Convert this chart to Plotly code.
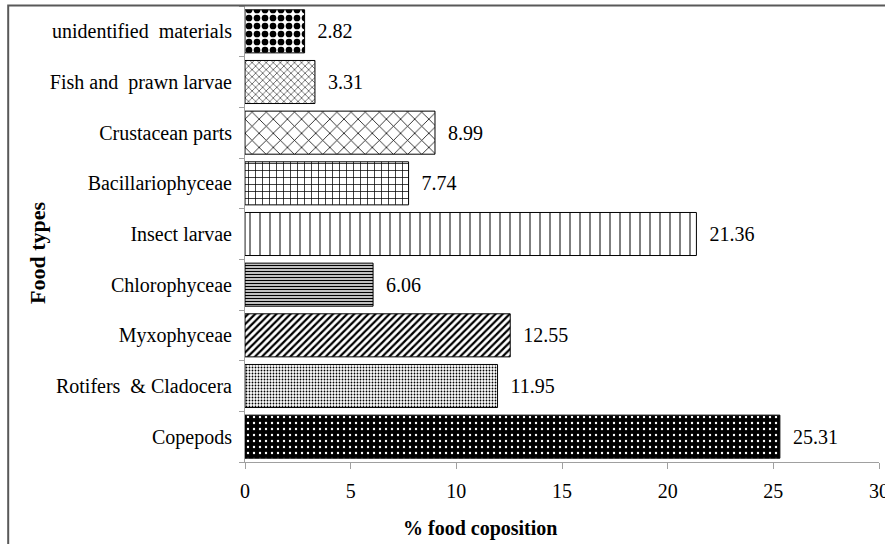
import plotly.graph_objects as go

categories = ["Copepods", "Rotifers\u00a0 & Cladocera", "Myxophyceae", "Chlorophyceae",
              "Insect larvae", "Bacillariophyceae", "Crustacean parts",
              "Fish and\u00a0 prawn larvae", "unidentified\u00a0 materials"]
values = [25.31, 11.95, 12.55, 6.06, 21.36, 7.74, 8.99, 3.31, 2.82]
x_ticks = [0, 5, 10, 15, 20, 25, 30]

pat_shape = [".", ".", "/", "-", "|", "+", "x", "x", "."]
pat_fg = ["white", "black", "black", "black", "black", "black", "black", "black", "black"]
pat_bg = ["black", "white", "white", "white", "white", "white", "white", "white", "white"]
pat_size = [6, 3, 5, 3, 10, 7, 10, 5, 8]
pat_sol = [0.12, 0.3, 0.45, 0.5, 0.1, 0.2, 0.15, 0.2, 0.55]

FONT = "Liberation Serif"

fig = go.Figure()
fig.add_trace(go.Bar(
    x=values, y=categories, orientation="h",
    marker=dict(color="black",
                line=dict(color="black", width=1),
                pattern=dict(shape=pat_shape, fgcolor=pat_fg, bgcolor=pat_bg,
                             size=pat_size, solidity=pat_sol, fillmode="replace")),
    text=values, texttemplate="\u00a0\u00a0%{x:.2f}", textposition="outside",
    textfont=dict(family=FONT, size=20, color="black"),
    cliponaxis=False, showlegend=False,
))

fig.update_layout(
    width=885, height=544,
    margin=dict(l=245, r=6, t=6, b=82),
    paper_bgcolor="white", plot_bgcolor="white",
    bargap=0.15,
    font=dict(family=FONT, size=20, color="black"),
    xaxis=dict(range=[0, 30], tickvals=x_ticks, showgrid=False, zeroline=False,
               showline=True, linecolor="#a0a0a0", linewidth=1,
               ticks="outside", ticklen=6, tickcolor="#a0a0a0",
               ticklabelstandoff=5, ticklabeloverflow="allow", automargin=False,
               tickfont=dict(family=FONT, size=20, color="black")),
    yaxis=dict(type="category", categoryorder="array", categoryarray=categories,
               showgrid=False, showline=True, linecolor="#a0a0a0", linewidth=1,
               ticks="outside", tickson="boundaries", ticklen=5, tickcolor="#a0a0a0",
               ticklabelstandoff=8, automargin=False,
               tickfont=dict(family=FONT, size=20, color="black")),
    shapes=[dict(type="rect", xref="paper", yref="paper",
                 x0=-0.3735, x1=1.2, y0=-0.5, y1=1.001,
                 line=dict(color="#595959", width=2), fillcolor="rgba(0,0,0,0)")],
    annotations=[
        dict(text="<b>% food coposition</b>", xref="paper", yref="paper",
             x=0.37, y=-0.145, xanchor="center", yanchor="middle", showarrow=False,
             font=dict(family=FONT, size=20, color="black")),
        dict(text="<b>Food types</b>", xref="paper", yref="paper",
             x=-0.327, y=0.46, xanchor="center", yanchor="middle", showarrow=False,
             textangle=-90, font=dict(family=FONT, size=22, color="black")),
    ],
)

fig.write_html("out.html")
